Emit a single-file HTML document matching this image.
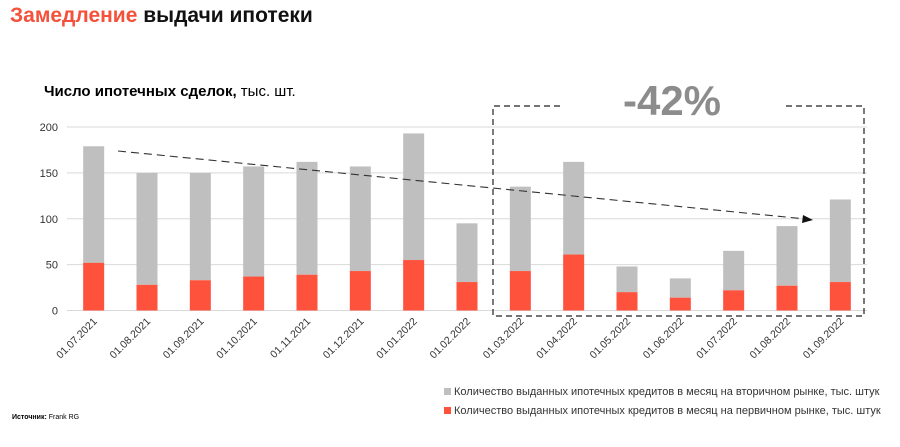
<!DOCTYPE html>
<html><head><meta charset="utf-8"><style>
body{margin:0;width:900px;height:447px;background:#fff;font-family:"Liberation Sans","DejaVu Sans",sans-serif;overflow:hidden;position:relative}
.t{position:absolute}
</style></head><body>
<div class="t" style="left:10px;top:4px;font-size:21px;font-weight:bold;color:#111"><span style="color:#f4503a">Замедление</span> выдачи ипотеки</div>
<div class="t" style="left:44px;top:83px;font-size:15px;color:#000"><b>Число ипотечных сделок,</b> тыс. шт.</div>
<svg id="c" width="900" height="447" style="position:absolute;left:0;top:0"></svg>
<div class="t" style="left:12px;top:414px;font-size:7px;color:#000"><b>Источник:</b> Frank RG</div>
<script>
const categories=["01.07.2021","01.08.2021","01.09.2021","01.10.2021","01.11.2021","01.12.2021","01.01.2022","01.02.2022","01.03.2022","01.04.2022","01.05.2022","01.06.2022","01.07.2022","01.08.2022","01.09.2022"];
const primary=[52,28,33,37,39,43,55,31,43,61,20,14,22,27,31];
const totals=[179,150,150,157,162,157,193,95,135,162,48,35,65,92,121];
const ticks=[0,50,100,150,200];
const NS="http://www.w3.org/2000/svg";
const svg=document.getElementById('c');
const x0=67,x1=867,y0=310.5,yTop=127;
const y=v=>y0-(v/200)*(y0-yTop);
const bw=(x1-x0)/categories.length;
const xc=i=>x0+bw*(i+0.5);
function mk(t,a){const e=document.createElementNS(NS,t);for(const k in a)e.setAttribute(k,a[k]);svg.appendChild(e);return e;}
ticks.forEach(v=>{
 const g=mk('line',{x1:x0,x2:x1,y1:y(v),y2:y(v),stroke:'#d9d9d9','stroke-width':1});
 
 
 const t=mk('text',{x:58,y:y(v)+4,'text-anchor':'end','font-size':11,fill:'#333','font-family':'Liberation Sans, sans-serif'});
 t.textContent=v;
 
 
});
categories.forEach((c,i)=>{
 const w=21,cx=xc(i);
 const s=mk('rect',{x:cx-w/2,y:y(totals[i]),width:w,height:y(primary[i])-y(totals[i]),fill:'#bfbfbf'});
 
 
 const p=mk('rect',{x:cx-w/2,y:y(primary[i]),width:w,height:y0-y(primary[i]),fill:'#ff523d'});
 
 
 const t=mk('text',{x:cx+4,y:322,'text-anchor':'end','font-size':10.5,fill:'#333','font-family':'Liberation Sans, sans-serif',transform:`rotate(-45 ${cx+4} 322)`});
 t.textContent=c;
 
 
});
const bx=mk('path',{d:'M560 106 H493 V316 H864 V106 H785',fill:'none',stroke:'#222','stroke-width':1.2,'stroke-dasharray':'6 4'});


const pct=mk('text',{x:672,y:115,'text-anchor':'middle','font-size':42,'font-weight':'bold',fill:'#8c8c8c','font-family':'Liberation Sans, sans-serif'});
pct.textContent='-42%';


const tr=mk('line',{x1:118,y1:151,x2:806,y2:219,stroke:'#333','stroke-width':1.1,'stroke-dasharray':'8 5'});


const ah=mk('path',{d:'M813 220 L803 215 L802 223 Z',fill:'#111'});


[['#bfbfbf','Количество выданных ипотечных кредитов в месяц на вторичном рынке, тыс. штук',395],['#ff523d','Количество выданных ипотечных кредитов в месяц на первичном рынке, тыс. штук',414]].forEach(l=>{
 const r=mk('rect',{x:444,y:l[2]-7,width:7,height:7,fill:l[0]});
 
 
 const t=mk('text',{x:454,y:l[2],'font-size':11,fill:'#333','font-family':'Liberation Sans, sans-serif'});
 t.textContent=l[1];
 
 
});
</script>
</body></html>
